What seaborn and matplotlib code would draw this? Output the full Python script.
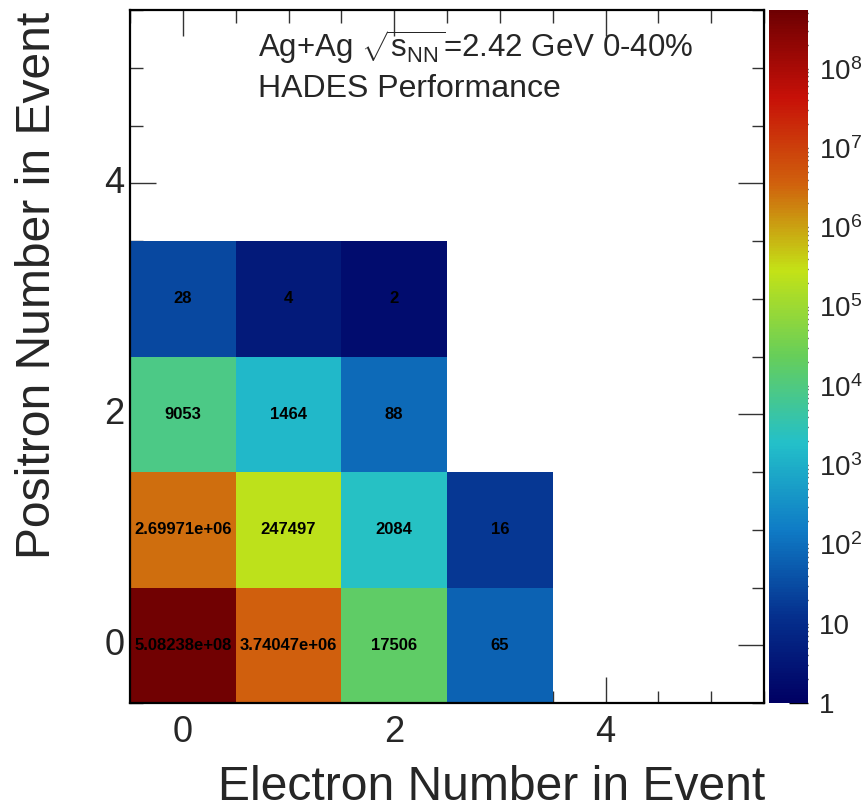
import numpy as np
import pandas as pd
import matplotlib
matplotlib.use("Agg")
import matplotlib.pyplot as plt
import seaborn as sns
from matplotlib.colors import LogNorm, LinearSegmentedColormap
from matplotlib.ticker import FixedLocator, NullFormatter

# ---------------- data ----------------
electron_numbers = [0, 1, 2, 3, 4, 5]
positron_numbers = [0, 1, 2, 3, 4, 5]
nan = np.nan
counts_pos0 = [5.08238e8, 3.74047e6, 17506, 65, nan, nan]
counts_pos1 = [2.69971e6, 247497, 2084, 16, nan, nan]
counts_pos2 = [9053, 1464, 88, nan, nan, nan]
counts_pos3 = [28, 4, 2, nan, nan, nan]
counts_pos4 = [nan, nan, nan, nan, nan, nan]
counts_pos5 = [nan, nan, nan, nan, nan, nan]
axis_tick_values = [0, 2, 4]
cbar_tick_values = [1, 10, 1e2, 1e3, 1e4, 1e5, 1e6, 1e7, 1e8]
cbar_tick_labels = ["1", "10", r"$10^{2}$", r"$10^{3}$", r"$10^{4}$",
                    r"$10^{5}$", r"$10^{6}$", r"$10^{7}$", r"$10^{8}$"]
z_min, z_max = 1, 5.5e8

df = pd.DataFrame([counts_pos0, counts_pos1, counts_pos2, counts_pos3,
                   counts_pos4, counts_pos5],
                  index=positron_numbers, columns=electron_numbers)

# ROOT kRainBow palette
stops = [0, 0.125, 0.25, 0.375, 0.5, 0.625, 0.75, 0.875, 1]
red = [0, 5, 15, 35, 102, 196, 208, 199, 110]
green = [0, 48, 124, 192, 206, 226, 97, 16, 0]
blue = [99, 142, 198, 201, 90, 22, 13, 8, 2]
cmap = LinearSegmentedColormap.from_list(
    "rainbow_root",
    [(s, (r / 255, g / 255, b / 255)) for s, r, g, b in zip(stops, red, green, blue)])

sns.set_theme(style="white")
plt.rcParams["font.family"] = ["Liberation Sans", "DejaVu Sans"]
plt.rcParams["mathtext.fontset"] = "custom"
plt.rcParams["mathtext.rm"] = "Liberation Sans"
plt.rcParams["mathtext.it"] = "Liberation Sans:italic"
plt.rcParams["mathtext.bf"] = "Liberation Sans:bold"

W, H = 867, 811
fig = plt.figure(figsize=(W / 100, H / 100), dpi=100)
ax = fig.add_axes([130 / W, 1 - 703 / H, (764 - 130) / W, (703 - 10) / H])
cax = fig.add_axes([769 / W, 1 - 703 / H, (808 - 769) / W, (703 - 10) / H])

sns.heatmap(df, ax=ax, cbar_ax=cax, cmap=cmap, norm=LogNorm(vmin=z_min, vmax=z_max),
            annot=True, fmt="g",
            annot_kws={"color": "black", "fontsize": 12, "fontweight": "bold"},
            linewidths=0)
ax.invert_yaxis()

for s in ax.spines.values():
    s.set_visible(True)
    s.set_color("black")
    s.set_linewidth(1.6)

pos = [v + 0.5 for v in axis_tick_values]
ax.set_xticks(pos, labels=[str(v) for v in axis_tick_values])
ax.set_yticks(pos, labels=[str(v) for v in axis_tick_values])
minor = np.arange(0, 6.01, 0.5)
ax.xaxis.set_minor_locator(FixedLocator(minor))
ax.yaxis.set_minor_locator(FixedLocator(minor))
ax.tick_params(which="both", direction="in", top=True, right=True,
               bottom=True, left=True, color="#333333", width=1)
ax.tick_params(which="major", length=19, labelsize=26, rotation=0)
ax.tick_params(which="minor", length=9)
ax.tick_params(axis="x", which="major", pad=9)
ax.tick_params(axis="y", which="major", pad=4)

ax.set_xlabel("Electron Number in Event", fontsize=34.6, loc="right")
ax.set_ylabel("Positron Number in Event", fontsize=34.6, loc="top")
ax.xaxis.label.set_va("baseline")
ax.yaxis.label.set_va("baseline")
ax.xaxis.set_label_coords(1.0016, (703 - 800) / 693)
ax.yaxis.set_label_coords((50 - 130) / 634, (703 - 12) / 693)

cbar = ax.collections[0].colorbar
cbar.outline.set_visible(False)
cbar.set_ticks(cbar_tick_values, labels=cbar_tick_labels)
cbar.ax.yaxis.set_minor_locator(FixedLocator(
    [m * 10 ** d for d in range(0, 9) for m in range(2, 10)]))
cbar.ax.yaxis.set_minor_formatter(NullFormatter())
cbar.ax.tick_params(which="both", direction="in", right=True, left=False,
                    color="black", width=1)
cbar.ax.tick_params(which="major", length=14, labelsize=20, pad=8)
cbar.ax.tick_params(which="minor", length=8.5)

fig.text(258 / W, 1 - 57 / H, r"Ag+Ag $\sqrt{\mathrm{s}_{\mathrm{NN}}}$=2.42 GeV 0-40%",
         fontsize=22.5, va="baseline", ha="left")
fig.text(258 / W, 1 - 97 / H, "HADES Performance",
         fontsize=23, va="baseline", ha="left")

fig.savefig("out.png", dpi=100)
